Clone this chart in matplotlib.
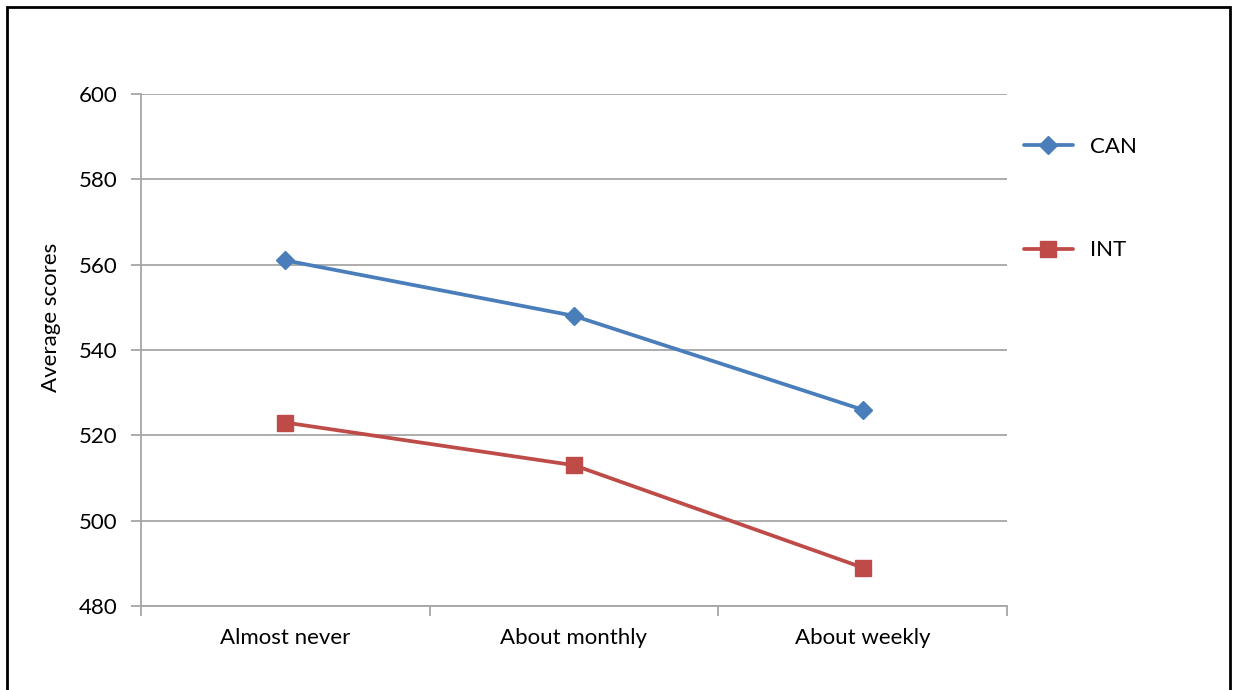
import matplotlib.pyplot as plt
from matplotlib.patches import Rectangle

categories = ['Almost never', 'About monthly', 'About weekly']
can_scores = [561, 548, 526]
int_scores = [523, 513, 489]
yticks = [480, 500, 520, 540, 560, 580, 600]

plt.rcParams['font.family'] = ['Lato', 'DejaVu Sans']

W, H = 1233, 690
fig = plt.figure(figsize=(W / 100, H / 100), dpi=100)
ax = fig.add_axes([141 / W, 1 - 606 / H, (1007 - 141) / W, (606 - 94) / H])

grid_c = '#a6a6a6'
x = range(len(categories))
ax.plot(x, can_scores, color='#4a7ebb', lw=2.7, marker='D', ms=9.5,
        label='CAN', solid_capstyle='round')
ax.plot(x, int_scores, color='#be4b48', lw=2.7, marker='s', ms=11.5,
        label='INT', solid_capstyle='round')

ax.set_xlim(-0.5, 2.5)
ax.set_ylim(480, 600)
ax.set_yticks(yticks)
ax.set_yticklabels([str(v) for v in yticks], fontsize=16)
ax.set_xticks(list(x))
ax.set_xticklabels(categories, fontsize=16)
ax.tick_params(axis='x', which='major', length=0, pad=16)
ax.set_xticks([-0.5, 0.5, 1.5, 2.5], minor=True)
ax.tick_params(axis='x', which='minor', length=7, color=grid_c, width=1.3)
ax.tick_params(axis='y', length=7, color=grid_c, width=1.3, pad=10)
ax.grid(axis='y', color=grid_c, lw=1.3)
ax.set_axisbelow(True)
for s in ['top', 'right']:
    ax.spines[s].set_visible(False)
for s in ['left', 'bottom']:
    ax.spines[s].set_color(grid_c)
    ax.spines[s].set_linewidth(1.3)

# axis title sits a bit above the middle of the axis
fig.text(51 / W, 1 - 317 / H, 'Average scores', rotation=90, fontsize=16,
         ha='center', va='center')

# legend to the right of the plot
ax.legend(loc='upper left', bbox_to_anchor=(1004 / W, 1 - 117 / H),
          bbox_transform=fig.transFigure, frameon=False, fontsize=16,
          handlelength=2.2, handletextpad=0.75, labelspacing=3.75)

# outer frame
fig.patches.append(Rectangle((7 / W, -0.1), (1230 - 7) / W, 1 - 7 / H + 0.1,
                             transform=fig.transFigure, fill=False,
                             ec='black', lw=2, zorder=10))

fig.savefig('out.png', dpi=100)
